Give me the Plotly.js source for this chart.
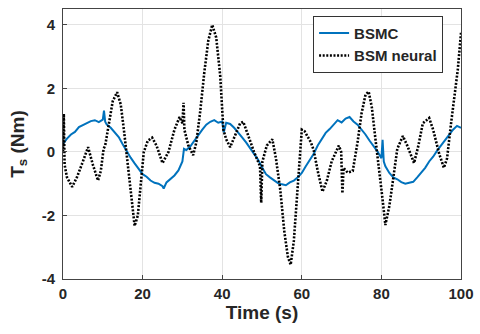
<!DOCTYPE html>
<html>
<head>
<meta charset="utf-8">
<script src="https://cdn.plot.ly/plotly-3.0.1.min.js"></script>
<style>html,body{margin:0;padding:0;background:#fff;}#chart{width:480px;height:334px;}</style>
</head>
<body>
<div id="chart"></div>
<script>
// BSMC series
const tBSMC = [0,1,2,3,4,5,6,7,8,9,10,10.3,10.6,11,12,13,14,15,16,17,18,19,20,21,22,23,24,25,25.3,26,27,28,29,30,30.4,31,32,33,34,35,36,37,38,39,40,40.4,41,42,43,44,45,46,47,48,49,50,51,52,53,54,55,56,57,58,59,60,61,62,63,64,65,66,67,68,69,70,71,72,73,74,75,76,77,78,79,80,80.3,80.6,81,82,83,84,85,86,87,88,89,90,91,92,93,94,95,96,97,98,99,100];
const yBSMC = [0.25,0.42,0.55,0.63,0.78,0.85,0.92,0.97,1.0,0.94,1.02,1.3,0.95,0.86,0.76,0.62,0.47,0.24,0.02,-0.18,-0.36,-0.52,-0.7,-0.78,-0.9,-0.97,-1.0,-1.08,-1.15,-0.96,-0.86,-0.74,-0.58,-0.3,0.1,0.06,0.18,0.36,0.55,0.7,0.86,0.95,1.0,0.92,0.96,0.62,0.92,0.88,0.76,0.62,0.46,0.3,0.12,-0.04,-0.24,-0.48,-0.7,-0.8,-0.9,-0.98,-1.02,-1.05,-0.96,-0.9,-0.8,-0.66,-0.45,-0.25,-0.06,0.2,0.4,0.6,0.72,0.86,1.0,0.93,1.05,1.1,0.96,0.86,0.72,0.55,0.36,0.2,0.02,-0.2,0.38,-0.3,-0.45,-0.66,-0.8,-0.86,-0.95,-1.0,-0.97,-0.94,-0.8,-0.66,-0.5,-0.3,-0.15,0.04,0.2,0.36,0.55,0.7,0.82,0.76];

// BSM neural series
const tNeural = [0,0.2,0.4,1,2.3,3.5,5,6.3,7.5,8.8,9.5,10.2,10.6,11.5,12.5,13.6,14.5,15.3,16.2,17,18,18.8,19.5,20,20.3,21.3,22.4,23.5,25,26.5,28,29.3,30,30.3,30.5,31.5,32.7,33.5,34.5,35.5,36.5,37.5,38.5,39.5,40,40.3,41,42,43,44.5,45.3,46.5,48,49.5,49.8,50.1,51.2,52.6,53.5,54.6,55.6,56.5,57.2,58,59,60,60.7,61.5,62.3,63,64,65.2,66.3,67.5,68.5,69.3,69.9,70.2,70.5,71.5,72.8,74,75,76,76.8,77.6,78.6,79.5,80.3,81,82,82.9,84,85.4,86.5,88.2,89.3,90.4,92,93,94.5,95.7,96.5,97.5,98.5,99.2,100];
const yNeural = [0.0,1.2,-0.4,-0.8,-1.1,-0.8,-0.3,0.15,-0.4,-0.9,-0.6,0.1,0.2,0.9,1.6,1.88,1.5,0.7,-0.3,-1.2,-2.33,-2.0,-1.0,-0.2,0.0,0.35,0.45,0.2,-0.35,0.0,0.7,1.1,0.9,1.55,0.7,0.2,-0.1,0.3,1.3,2.5,3.5,4.0,3.6,2.4,1.2,0.7,0.4,0.15,0.45,0.9,0.95,0.5,0.0,-0.45,-1.6,-0.3,0.2,0.4,-0.2,-1.2,-2.5,-3.3,-3.55,-2.8,-1.0,0.7,0.65,0.45,0.3,0.05,-0.6,-1.25,-0.9,-0.3,0.0,0.2,0.0,-1.3,-0.5,-0.65,-0.6,0.3,1.2,1.8,1.9,1.4,0.3,-0.6,-1.5,-2.3,-1.7,-0.9,0.1,0.5,0.2,-0.35,0.2,0.9,1.07,0.7,-0.05,-0.5,-0.2,0.9,2.0,2.6,3.75];

const xTicks = [0,20,40,60,80,100];
const yTicks = [-4,-2,0,2,4];

const fontFam = 'Arial, "Liberation Sans", sans-serif';
const traces = [
  {x: tBSMC, y: yBSMC, name: 'BSMC', type: 'scatter', mode: 'lines',
   line: {color: '#0072BD', width: 2}},
  {x: tNeural, y: yNeural, name: 'BSM neural', type: 'scatter', mode: 'lines',
   line: {color: '#000000', width: 2.6, dash: '2px,1.6px'}}
];

const axisCommon = {
  showline: true, mirror: true, linecolor: '#444', linewidth: 1,
  showgrid: true, gridcolor: '#e3e3e3', gridwidth: 1,
  ticks: 'inside', ticklen: 4, tickcolor: '#444',
  zeroline: false,
  tickfont: {family: fontFam, size: 15, color: '#262626', weight: 'bold'}
};

const layout = {
  width: 480, height: 334,
  margin: {l: 63, r: 19, t: 9, b: 55},
  paper_bgcolor: '#fff', plot_bgcolor: '#fff',
  showlegend: true,
  legend: {
    x: 0.955, y: 0.975, xanchor: 'right', yanchor: 'top',
    bgcolor: '#fff', bordercolor: '#333', borderwidth: 1,
    font: {family: fontFam, size: 15, color: '#262626', weight: 'bold'},
    tracegroupgap: 0, itemwidth: 30
  },
  xaxis: Object.assign({}, axisCommon, {
    range: [0, 100], tickvals: xTicks, ticktext: xTicks.map(String),
    ticklabelstandoff: 1,
    title: {text: 'Time (s)', standoff: 4, font: {family: fontFam, size: 19, color: '#262626', weight: 'bold'}}
  }),
  yaxis: Object.assign({}, axisCommon, {
    range: [-4, 4.5], tickvals: yTicks, ticktext: yTicks.map(String),
    ticklabelstandoff: 4,
    title: {text: 'T<sub>s</sub> (Nm)', standoff: 12, font: {family: fontFam, size: 19, color: '#262626', weight: 'bold'}}
  })
};

Plotly.newPlot('chart', traces, layout, {displayModeBar: false, staticPlot: true});
</script>
</body>
</html>
